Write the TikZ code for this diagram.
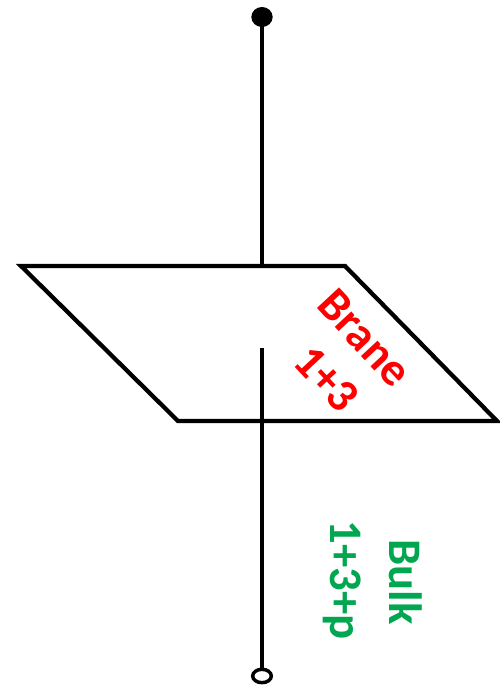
\documentclass[tikz,border=0pt]{standalone}
\usetikzlibrary{shapes.geometric}
\usepackage{fontspec}
\setmainfont{Carlito}
\definecolor{branered}{RGB}{255,0,0}
\definecolor{bulkgreen}{RGB}{0,166,80}
\begin{document}
\begin{tikzpicture}[x=0.75pt,y=-0.75pt,
  edge/.style={line width=3.2pt,black},
  lbl/.style={font=\fontsize{35}{38}\selectfont\bfseries,align=center,inner sep=0pt}]
\useasboundingbox (0,0) rectangle (500,686);
% brane parallelogram
\draw[edge,line join=miter] (21,266) -- (345,266) -- (497,421) -- (178,421) -- cycle;
% axis
\node[ellipse,fill=black,minimum width=16pt,minimum height=15pt,inner sep=0pt] (top) at (262,17) {};
\node[ellipse,draw=black,line width=2.6pt,minimum width=14pt,minimum height=10pt,inner sep=0pt] (bot) at (262,676) {};
\coordinate (braneTop) at (262,266);
\coordinate (gapEnd) at (262,348);
\draw[edge] (top.center) -- (braneTop);
\draw[edge] (gapEnd) -- (bot.north);
% labels
\node[lbl,text=branered,rotate=-47] (brane) at (365,338) {Brane};
\node[lbl,text=branered,rotate=-47] (d1) at (327,379) {1+3};
\node[lbl,text=bulkgreen,rotate=-90] (bulk) at (406,582) {Bulk};
\node[lbl,text=bulkgreen,rotate=-90] (d2) at (342,580) {1+3+p};
\end{tikzpicture}
\end{document}
